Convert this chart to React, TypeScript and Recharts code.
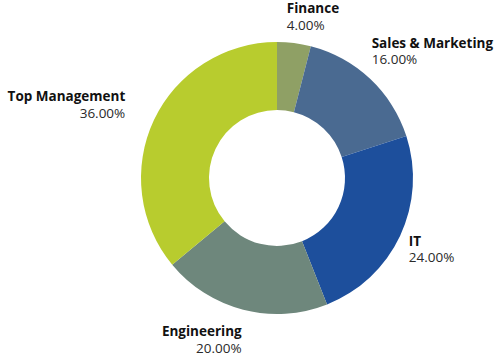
import React from 'react';
import { PieChart, Pie, Cell } from 'recharts';

// department share of respondents
const departments = ['Finance', 'Sales & Marketing', 'IT', 'Engineering', 'Top Management'];
const shares = [4, 16, 24, 20, 36];
const colors = ['#8fa065', '#4a6a91', '#1d4f9c', '#6e877c', '#b8cc2e'];

const data = departments.map((name, i) => ({ name, value: shares[i] }));

// small hand nudges so labels sit like the original
const labelNudge = [
  { dx: -9, dy: -16 },
  { dx: -8, dy: -21 },
  { dx: -4, dy: 4 },
  { dx: 2, dy: 13 },
  { dx: -16, dy: -13 },
];

const RADIAN = Math.PI / 180;

const renderLabel = (props: any) => {
  const { cx, cy, midAngle, outerRadius, index, name, percent } = props;
  const r = outerRadius + 14;
  const x = cx + r * Math.cos(-midAngle * RADIAN) + labelNudge[index].dx;
  const y = cy + r * Math.sin(-midAngle * RADIAN) + labelNudge[index].dy;
  const anchor = Math.cos(-midAngle * RADIAN) >= 0 ? 'start' : 'end';
  return (
    <g>
      <text x={x} y={y} textAnchor={anchor} fontSize={13.5} fontWeight={700} fill="#111">
        {name}
      </text>
      <text x={x} y={y + 16.5} textAnchor={anchor} fontSize={13.5} fill="#2a2a2a">
        {(percent * 100).toFixed(2)}%
      </text>
    </g>
  );
};

export default function App() {
  return (
    <div style={{ width: 500, height: 357, fontFamily: '"Open Sans", sans-serif' }}>
      <style>{'body{margin:0}'}</style>
      <PieChart width={500} height={357} margin={{ top: 0, right: 0, bottom: 0, left: 0 }}>
        <Pie
          data={data}
          dataKey="value"
          nameKey="name"
          cx={277}
          cy={178}
          innerRadius={68}
          outerRadius={136}
          startAngle={90}
          endAngle={-270}
          stroke="none"
          label={renderLabel}
          labelLine={false}
          isAnimationActive={false}
        >
          {data.map((entry, i) => (
            <Cell key={entry.name} fill={colors[i]} />
          ))}
        </Pie>
      </PieChart>
    </div>
  );
}
